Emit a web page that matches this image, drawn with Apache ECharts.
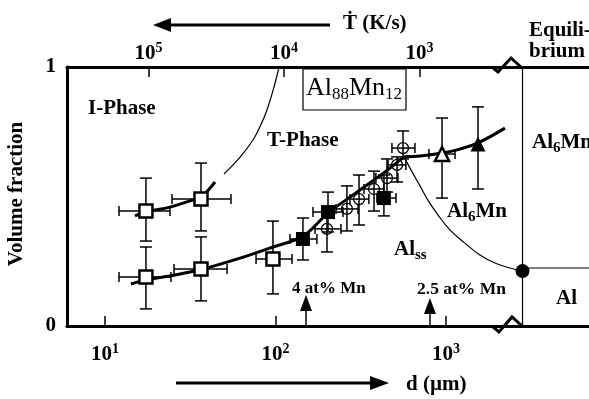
<!DOCTYPE html>
<html>
<head>
<meta charset="utf-8">
<script src="https://cdn.jsdelivr.net/npm/echarts@6/dist/echarts.min.js"></script>
<style>
  html, body { margin: 0; padding: 0; background: #fff; }
  #chart { width: 589px; height: 399px; }
</style>
</head>
<body>
<div id="chart"></div>
<script>
// x = log10(d / µm), y = volume fraction
const D_TICKS = [1, 2, 3];
const TDOT_TICKS = [3, 4, 5]; // log10(Tdot / K s^-1)
const Y_TICKS = [0, 1];

// markers [logd, fraction] and error bars [xlo, xhi, ylo, yhi]
const openSqUpper = [[1.240, 0.444], [1.563, 0.490]];
const openSqUpperErr = [[1.082, 1.381, 0.328, 0.571], [1.393, 1.739, 0.367, 0.629]];
const openSqLower = [[1.240, 0.189], [1.563, 0.220], [1.985, 0.259]];
const openSqLowerErr = [[1.082, 1.387, 0.066, 0.305], [1.405, 1.716, 0.097, 0.344], [1.886, 2.097, 0.124, 0.405]];
const filledSq = [[2.161, 0.336], [2.308, 0.440], [2.636, 0.494]];
const filledSqErr = [[2.085, 2.243, 0.255, 0.417], [2.220, 2.396, 0.363, 0.517], [2.595, 2.707, 0.425, 0.583]];
const openCircles = [[2.302, 0.375], [2.419, 0.452], [2.490, 0.490], [2.578, 0.529], [2.654, 0.571], [2.713, 0.622], [2.748, 0.687]];
const openCirclesErr = [
  [2.232, 2.384, 0.286, 0.425], [2.355, 2.484, 0.367, 0.541], [2.437, 2.548, 0.390, 0.583],
  [2.519, 2.636, 0.444, 0.598], [2.589, 2.718, 0.517, 0.645], [2.660, 2.765, 0.556, 0.653],
  [2.683, 2.818, 0.645, 0.753]
];
const openTri = [[2.977, 0.664]];
const openTriErr = [[2.900, 3.053, 0.494, 0.803]];
const filledTri = [[3.188, 0.703]];
const filledTriErr = [[null, null, 0.529, 0.846]];

// fitted curves and phase boundaries
const fitUpper = [[1.176, 0.425], [1.240, 0.440], [1.381, 0.459], [1.499, 0.483], [1.563, 0.498], [1.645, 0.556]];
const boundaryIT = [[1.698, 0.587], [1.790, 0.650], [1.868, 0.718], [1.915, 0.778], [1.950, 0.834], [1.990, 0.920], [2.021, 1.0]];
const fitLowerA = [[1.152, 0.162], [1.240, 0.178], [1.411, 0.197], [1.563, 0.218], [1.792, 0.262], [1.985, 0.305],
  [2.161, 0.347], [2.308, 0.436], [2.496, 0.525], [2.642, 0.595], [2.754, 0.653]];
const fitLowerB = [[2.754, 0.653], [2.848, 0.656], [2.977, 0.668], [3.082, 0.683], [3.188, 0.707], [3.346, 0.764]];
const boundaryAl6Mn = [[2.754, 0.653], [2.801, 0.595], [2.848, 0.541], [2.894, 0.486], [2.953, 0.429], [3.023, 0.371],
  [3.111, 0.320], [3.199, 0.274], [3.287, 0.243], [3.375, 0.224], [3.449, 0.212]];
const equilibriumX = 3.449;
const equilibriumPoint = [[3.449, 0.212]];
const equilibriumLevel = 0.224;
const compositionArrows = [[2.179, 0.089, '4 at% Mn'], [2.906, 0.077, '2.5 at% Mn']];

const X_MIN = 0.777, X_MAX = 3.839;
const T_MIN = 1.749, T_MAX = 5.601;

const SERIF = "'Liberation Serif', 'DejaVu Serif', serif";

const chart = echarts.init(document.getElementById('chart'), null, { renderer: 'canvas' });

const allErr = [].concat(openSqUpperErr, openSqLowerErr, filledSqErr, openCirclesErr, openTriErr, filledTriErr);
const allPts = [].concat(openSqUpper, openSqLower, filledSq, openCircles, openTri, filledTri);

function renderErr(params, api) {
  const i = params.dataIndex;
  const [x, y] = allPts[i];
  const [xlo, xhi, ylo, yhi] = allErr[i];
  const st = { stroke: '#000', lineWidth: 1.5 };
  const kids = [];
  const a = api.coord([x, ylo]), b = api.coord([x, yhi]);
  kids.push({ type: 'line', shape: { x1: a[0], y1: a[1], x2: b[0], y2: b[1] }, style: st });
  kids.push({ type: 'line', shape: { x1: a[0] - 6, y1: a[1], x2: a[0] + 6, y2: a[1] }, style: st });
  kids.push({ type: 'line', shape: { x1: b[0] - 6, y1: b[1], x2: b[0] + 6, y2: b[1] }, style: st });
  if (xlo != null) {
    const c = api.coord([xlo, y]), d = api.coord([xhi, y]);
    kids.push({ type: 'line', shape: { x1: c[0], y1: c[1], x2: d[0], y2: d[1] }, style: st });
    kids.push({ type: 'line', shape: { x1: c[0], y1: c[1] - 5, x2: c[0], y2: c[1] + 5 }, style: st });
    kids.push({ type: 'line', shape: { x1: d[0], y1: d[1] - 5, x2: d[0], y2: d[1] + 5 }, style: st });
  }
  return { type: 'group', children: kids };
}

function curve(data, width, smooth) {
  return {
    type: 'line', data, symbol: 'none', smooth: smooth, silent: true, z: 3,
    lineStyle: { color: '#000', width }
  };
}

function markers(data, symbol, size, style) {
  return {
    type: 'scatter', data, symbol, symbolSize: size, z: 5, silent: true,
    itemStyle: Object.assign({ opacity: 1 }, style)
  };
}

const supRich = { s: { fontSize: 14, fontWeight: 'bold', fontFamily: SERIF, padding: [0, 0, 11, 0] } };
const subRich = { s: { fontSize: 15, fontWeight: 'bold', fontFamily: SERIF, padding: [11, 0, 0, 0] } };

function label(x, y, text, size, extra) {
  return Object.assign({
    type: 'text', x, y, z: 50,
    style: {
      text, fill: '#000', font: 'bold ' + size + 'px ' + SERIF,
      align: 'left', verticalAlign: 'middle', rich: subRich
    }
  }, extra || {});
}

chart.setOption({
  backgroundColor: '#fff',
  animation: false,
  grid: { left: 67, right: 0, top: 67, bottom: 73 },
  xAxis: [
    {
      type: 'value', min: X_MIN, max: X_MAX, position: 'bottom',
      axisLine: { lineStyle: { color: '#000', width: 3 } },
      axisTick: { inside: true, length: 10, customValues: D_TICKS, lineStyle: { color: '#000', width: 1.5 } },
      splitLine: { show: false },
      axisLabel: {
        customValues: D_TICKS, margin: 16, color: '#000',
        fontSize: 21, fontWeight: 'bold', fontFamily: SERIF,
        formatter: (v) => '10{s|' + v + '}', rich: supRich
      }
    },
    {
      type: 'value', min: T_MIN, max: T_MAX, inverse: true, position: 'top',
      axisLine: { lineStyle: { color: '#000', width: 3 } },
      axisTick: { inside: true, length: 10, customValues: TDOT_TICKS, lineStyle: { color: '#000', width: 1.5 } },
      splitLine: { show: false },
      axisLabel: {
        customValues: TDOT_TICKS, margin: 1, color: '#000',
        fontSize: 21, fontWeight: 'bold', fontFamily: SERIF,
        formatter: (v) => '10{s|' + v + '}', rich: supRich
      }
    }
  ],
  yAxis: {
    type: 'value', min: 0, max: 1, interval: 1,
    axisLine: { show: true, lineStyle: { color: '#000', width: 3 } },
    axisTick: { show: false },
    splitLine: { show: false },
    axisLabel: {
      margin: 11, color: '#000', fontSize: 21, fontWeight: 'bold', fontFamily: SERIF,
      formatter: (v) => (Y_TICKS.indexOf(v) >= 0 ? String(v) : '')
    }
  },
  series: [
    curve(fitUpper, 3, 0.4),
    curve(boundaryIT, 1.2, 0.4),
    curve(fitLowerA, 3, 0.35),
    curve(fitLowerB, 3, 0.4),
    curve(boundaryAl6Mn, 1.2, 0.4),
    {
      type: 'line', data: [[equilibriumX, 0], [equilibriumX, 1]], symbol: 'none', silent: true,
      lineStyle: { color: '#000', width: 1.2 }
    },
    {
      type: 'line', data: [[equilibriumX, equilibriumLevel], [X_MAX, equilibriumLevel]], symbol: 'none', silent: true,
      lineStyle: { color: '#000', width: 1.2 }
    },
    {
      type: 'custom', renderItem: renderErr, data: allPts, z: 4, silent: true
    },
    markers(openSqUpper.concat(openSqLower), 'rect', 13, { color: '#fff', borderColor: '#000', borderWidth: 2.5 }),
    markers(filledSq, 'rect', 14, { color: '#000' }),
    markers(openCircles, 'circle', 11, { color: 'rgba(255,255,255,0)', borderColor: '#000', borderWidth: 1.3 }),
    markers(openTri, 'triangle', 14, { color: '#fff', borderColor: '#000', borderWidth: 2.5 }),
    markers(filledTri, 'triangle', 15, { color: '#000' }),
    markers(equilibriumPoint, 'circle', 14, { color: '#000' }),
    {
      type: 'line', data: [], silent: true,
      markLine: {
        silent: true, symbol: ['none', 'triangle'], symbolSize: [12, 16],
        label: { show: false },
        lineStyle: { color: '#000', width: 1.5, type: 'solid' },
        data: compositionArrows.map((a) => [{ coord: [a[0], 0] }, { coord: [a[0], a[1]] }])
      }
    }
  ],
  graphic: [
    {
      type: 'text', x: 17, y: 194, rotation: Math.PI / 2, z: 50,
      style: { text: 'Volume fraction', fill: '#000', font: 'bold 21px ' + SERIF, align: 'center', verticalAlign: 'middle' }
    },
    label(88, 109, 'I-Phase', 21),
    label(267, 141, 'T-Phase', 21),
    label(447, 212, 'Al{s|6}Mn', 21),
    label(532, 143, 'Al{s|6}Mn', 21),
    label(394, 250, 'Al{s|ss}', 21),
    label(556, 299, 'Al', 21),
    label(292, 289, compositionArrows[0][2], 17),
    label(417, 289, compositionArrows[1][2], 17.5),
    label(529, 31, 'Equili-', 21),
    label(529, 52, 'brium', 21),
    label(343, 24, '\u1E6A (K/s)', 21),
    label(406, 385, 'd (\u00B5m)', 21),
    {
      type: 'rect', z: 40, shape: { x: 303, y: 69, width: 103, height: 41 },
      style: { fill: '#fff', stroke: '#000', lineWidth: 1.2 }
    },
    {
      type: 'text', x: 354, y: 88, z: 50,
      style: {
        text: 'Al{b|88}Mn{b|12}', fill: '#000', font: '26px ' + SERIF, align: 'center', verticalAlign: 'middle',
        rich: { b: { fontSize: 17, fontFamily: SERIF, padding: [14, 0, 0, 0] } }
      }
    },
    // direction arrows outside the plot
    { type: 'line', z: 50, shape: { x1: 330, y1: 25, x2: 168, y2: 25 }, style: { stroke: '#000', lineWidth: 3 } },
    { type: 'polygon', z: 50, shape: { points: [[153, 25], [171, 18], [171, 32]] }, style: { fill: '#000' } },
    { type: 'line', z: 50, shape: { x1: 176, y1: 383, x2: 372, y2: 383 }, style: { stroke: '#000', lineWidth: 3 } },
    { type: 'polygon', z: 50, shape: { points: [[389, 383], [370, 376], [370, 390]] }, style: { fill: '#000' } },
    // axis breaks
    { type: 'polyline', z: 50, shape: { points: [[492, 67], [498, 72], [511, 58], [521, 67]] }, style: { stroke: '#000', lineWidth: 3, fill: null } },
    { type: 'polyline', z: 50, shape: { points: [[492, 326], [499, 332], [512, 317], [522, 326]] }, style: { stroke: '#000', lineWidth: 3, fill: null } }
  ]
});
</script>
</body>
</html>
